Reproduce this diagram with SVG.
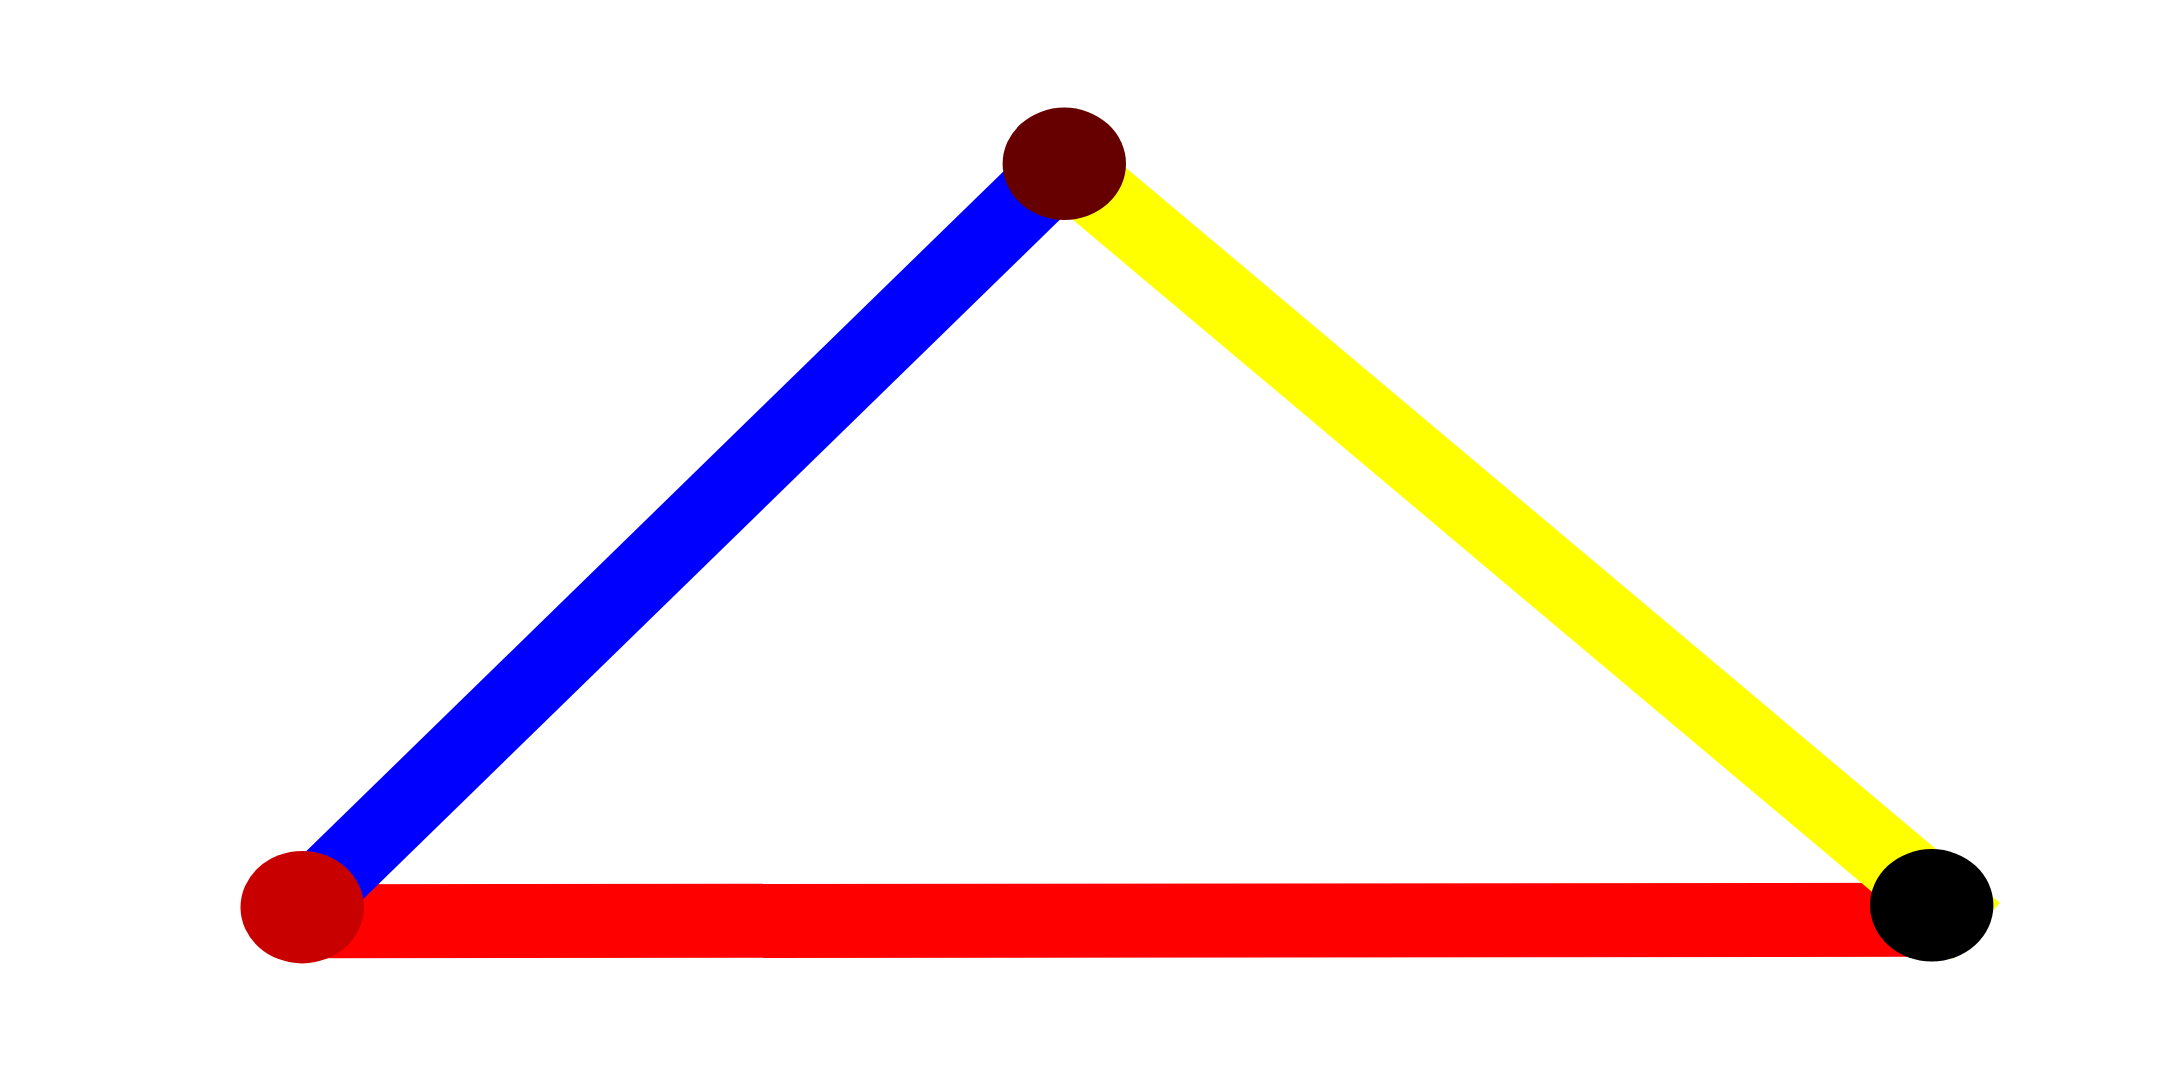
<svg xmlns="http://www.w3.org/2000/svg" width="2160" height="1080" viewBox="0 0 2160 1080">
  <style>
    .edge { fill: none; stroke-width: 74; stroke-linecap: butt; }
  </style>
  <rect x="0" y="0" width="2160" height="1080" fill="#ffffff"/>
  <g id="connectors">
    <line class="edge" x1="302" y1="921.3" x2="1931" y2="919.8" stroke="#ff0000" stroke-width="75"/>
    <line class="edge" x1="1064" y1="164" x2="302" y2="907" stroke="#0000ff"/>
    <line class="edge" x1="1064" y1="164" x2="1976" y2="931" stroke="#ffff00"/>
  </g>
  <g id="node-top">
    <ellipse cx="1064.3" cy="163.8" rx="61.7" ry="56.2" fill="#660000"/>
  </g>
  <g id="node-left">
    <ellipse cx="302.2" cy="907.2" rx="61.7" ry="56.2" fill="#c80000"/>
  </g>
  <g id="node-right">
    <ellipse cx="1931.7" cy="905.3" rx="61.7" ry="56.2" fill="#000000"/>
  </g>
</svg>
